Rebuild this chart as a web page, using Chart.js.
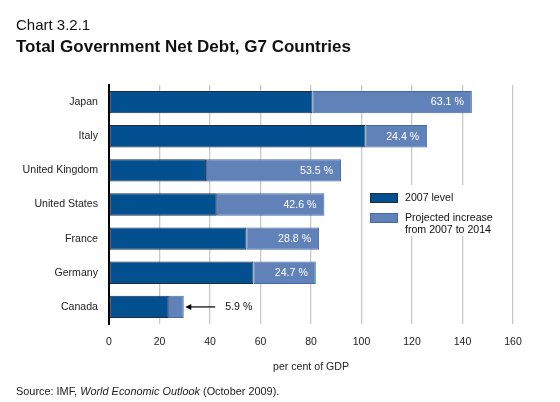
<!DOCTYPE html>
<html>
<head>
<meta charset="utf-8">
<script src="https://cdn.jsdelivr.net/npm/chart.js@4.4.1/dist/chart.umd.min.js"></script>
<style>
  body { margin: 0; background: #fff; }
  #wrap { position: relative; width: 560px; height: 402px; font-family: 'Liberation Sans', Arial, Helvetica, sans-serif; color: #111; }
  #chart { position: absolute; left: 0; top: 0; }
  .txt { position: absolute; left: 16px; line-height: 1; white-space: nowrap; }
  #num { top: 17.3px; font-size: 15px; }
  #title { top: 37.5px; font-size: 17px; font-weight: bold; }
  #source { top: 385.7px; font-size: 10.9px; color: #222; }
</style>
</head>
<body>
<div id="wrap">
  <canvas id="chart" width="560" height="402"></canvas>
  <div class="txt" id="num">Chart 3.2.1</div>
  <div class="txt" id="title">Total Government Net Debt, G7 Countries</div>
  <div class="txt" id="source">Source: IMF, <i>World Economic Outlook</i> (October 2009).</div>
</div>
<script>
const countries = ['Japan', 'Italy', 'United Kingdom', 'United States', 'France', 'Germany', 'Canada'];
const level2007 = [80.6, 101.6, 38.4, 42.7, 54.4, 57.2, 23.7];
const increase = [63.1, 24.4, 53.5, 42.6, 28.8, 24.7, 5.9];
const seriesNames = ['2007 level', ['Projected increase', 'from 2007 to 2014']];
const xTicks = [0, 20, 40, 60, 80, 100, 120, 140, 160];

const FONT = "'Liberation Sans', Arial, Helvetica, sans-serif";
const DARK = '#02508f';
const LIGHT = '#6182b8';

// white labels inside the light bars, arrow call-out when the bar is too short
const valueLabels = {
  id: 'valueLabels',
  afterDatasetsDraw(chart) {
    const ctx = chart.ctx;
    const meta = chart.getDatasetMeta(1);
    ctx.save();
    ctx.font = '10.6px ' + FONT;
    ctx.textBaseline = 'middle';
    meta.data.forEach((bar, i) => {
      const text = increase[i].toFixed(1) + ' %';
      const w = bar.x - bar.base;
      if (w > 40) {
        ctx.fillStyle = '#fff';
        ctx.textAlign = 'right';
        ctx.fillText(text, bar.x - 8, bar.y + 0.5);
      } else {
        const x0 = bar.x + 1.5;
        ctx.strokeStyle = '#000';
        ctx.fillStyle = '#000';
        ctx.lineWidth = 1.2;
        ctx.beginPath();
        ctx.moveTo(x0 + 4, bar.y);
        ctx.lineTo(x0 + 30, bar.y);
        ctx.stroke();
        ctx.beginPath();
        ctx.moveTo(x0, bar.y);
        ctx.lineTo(x0 + 6, bar.y - 3);
        ctx.lineTo(x0 + 6, bar.y + 3);
        ctx.closePath();
        ctx.fill();
        ctx.fillStyle = '#111';
        ctx.textAlign = 'left';
        ctx.fillText(text, x0 + 40, bar.y + 0.5);
      }
    });
    ctx.restore();
  }
};

// legend box sitting on a white patch over the gridlines
const sideLegend = {
  id: 'sideLegend',
  afterDatasetsDraw(chart) {
    const ctx = chart.ctx;
    const a = chart.chartArea;
    const bx = a.left + 261;
    const by = a.top + 108;
    ctx.save();
    ctx.fillStyle = '#fff';
    ctx.fillRect(bx - 3, by - 8, 135, 51);
    ctx.font = '10.6px ' + FONT;
    ctx.textBaseline = 'middle';
    ctx.textAlign = 'left';
    chart.data.datasets.forEach((ds, i) => {
      const y = by + i * 20;
      ctx.fillStyle = ds.backgroundColor;
      ctx.fillRect(bx, y, 28, 10);
      ctx.strokeStyle = ds.borderColor;
      ctx.lineWidth = 1;
      ctx.strokeRect(bx + 0.5, y + 0.5, 27, 9);
      ctx.fillStyle = '#111';
      const lines = Array.isArray(ds.label) ? ds.label : [ds.label];
      lines.forEach((t, j) => ctx.fillText(t, bx + 35, y + 5 + j * 12));
    });
    ctx.restore();
  }
};

new Chart(document.getElementById('chart'), {
  type: 'bar',
  data: {
    labels: countries,
    datasets: [
      {
        label: seriesNames[0],
        data: level2007,
        backgroundColor: DARK,
        borderColor: '#1f2c44',
        borderWidth: 1,
        borderSkipped: false
      },
      {
        label: seriesNames[1],
        data: increase,
        backgroundColor: LIGHT,
        borderColor: '#3f6ba8',
        borderWidth: 1,
        borderSkipped: false
      }
    ]
  },
  options: {
    indexAxis: 'y',
    responsive: false,
    animation: false,
    layout: { padding: { top: 85, right: 47, left: 0, bottom: 0 } },
    datasets: { bar: { categoryPercentage: 1, barPercentage: 0.655 } },
    scales: {
      x: {
        stacked: true,
        min: 0,
        max: 160,
        afterBuildTicks: (scale) => { scale.ticks = xTicks.map(v => ({ value: v })); },
        afterFit: (scale) => { scale.height = 78; },
        grid: { color: '#c9c9c9', lineWidth: 1.3, drawTicks: false },
        border: { display: false },
        ticks: { padding: 12, color: '#222', font: { family: FONT, size: 10.5 } },
        title: {
          display: true,
          text: 'per cent of GDP',
          color: '#222',
          font: { family: FONT, size: 10.6 },
          padding: { top: 0, bottom: 28.5 }
        }
      },
      y: {
        stacked: true,
        afterFit: (scale) => { scale.width = 109; },
        grid: { display: false, drawTicks: false },
        border: { display: true, color: '#000', width: 2 },
        ticks: { padding: 11, color: '#222', font: { family: FONT, size: 10.6 } }
      }
    },
    plugins: {
      legend: { display: false },
      tooltip: { enabled: false }
    }
  },
  plugins: [valueLabels, sideLegend]
});
</script>
</body>
</html>
